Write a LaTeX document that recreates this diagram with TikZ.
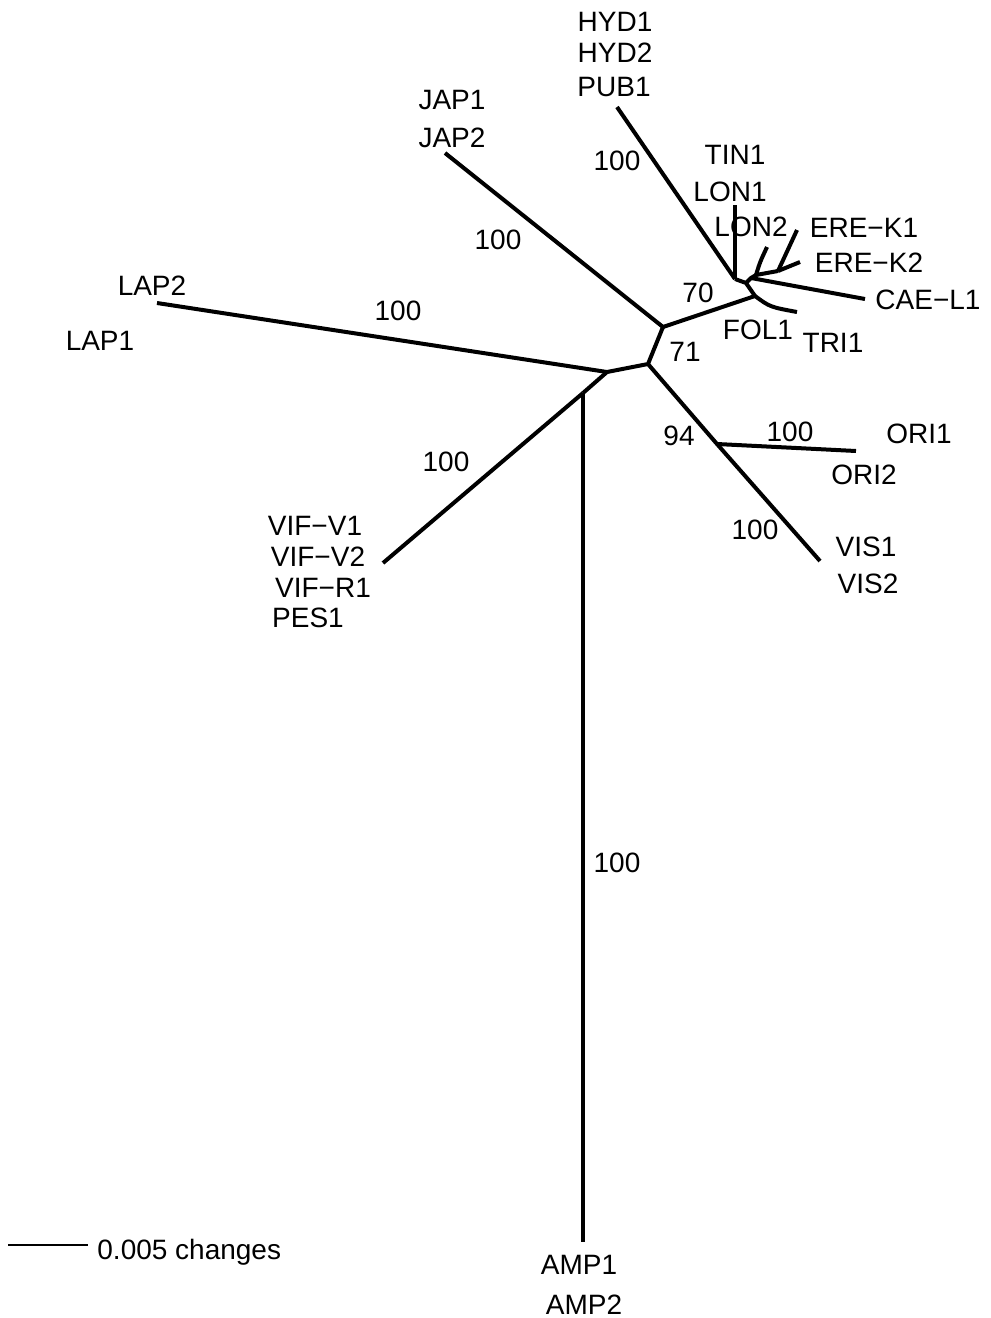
\documentclass[tikz,border=0pt]{standalone}
\usepackage{fontspec}
\setmainfont{Liberation Sans}
\usetikzlibrary{positioning}

\begin{document}
\begin{tikzpicture}[
    x=0.5pt, y=-0.5pt,
    branch/.style={line width=2pt},
    taxon/.style={font=\fontsize{14}{16}\selectfont, inner sep=0pt},
    boot/.style={taxon}
]
\useasboundingbox (0,0) rectangle (991,1318);

% ==============================================================================
% INTERNAL NODES
% ==============================================================================
\coordinate (nA) at (663,327);
\coordinate (nB) at (648,364);
\coordinate (nC) at (607,372);
\coordinate (nD) at (583,393);
\coordinate (nE) at (755,296);
\coordinate (nF) at (746,283);
\coordinate (nG) at (735,279);
\coordinate (nH) at (751,278);
\coordinate (nI) at (756,275);
\coordinate (nJ) at (778,271);
\coordinate (nK) at (717,444);

% ==============================================================================
% BRANCH ENDS
% ==============================================================================
\coordinate (eHyd) at (617,107);
\coordinate (eTin) at (735,205);
\coordinate (eLon) at (767,247);
\coordinate (eEre1) at (797,230);
\coordinate (eEre2) at (800,262);
\coordinate (eCae) at (865,299);
\coordinate (eFol) at (797,312);
\coordinate (eJap) at (445,153);
\coordinate (eLap) at (157,303);
\coordinate (eVif) at (383,563);
\coordinate (eAmp) at (583,1242);
\coordinate (eOri) at (856,451);
\coordinate (eVis) at (820,561);

% ==============================================================================
% BRANCHES
% ==============================================================================
\draw[branch] (nA) -- (nB) -- (nC) -- (nD);
\draw[branch] (nC) -- (eLap);
\draw[branch] (nD) -- (eVif);
\draw[branch] (nD) -- (eAmp);
\draw[branch] (nA) -- (eJap);
\draw[branch] (nA) -- (nE) -- (nF) -- (nG);
\draw[branch] (nG) -- (eHyd);
\draw[branch] (nG) -- (eTin);
\draw[branch] (nE) .. controls (770,307) .. (eFol);
\draw[branch] (nF) -- (nH) -- (nI) -- (nJ);
\draw[branch] (nH) -- (eCae);
\draw[branch] (nI) .. controls (760,262) .. (eLon);
\draw[branch] (nJ) -- (eEre2);
\draw[branch] (nJ) -- (eEre1);
\draw[branch] (nB) -- (nK) -- (eVis);
\draw[branch] (nK) -- (eOri);

% ==============================================================================
% TAXA
% ==============================================================================
\node[taxon] (hyd1) at (615,22) {HYD1};
\node[taxon] (hyd2) at (615,53) {HYD2};
\node[taxon] (pub1) at (614,87) {PUB1};
\node[taxon] (jap1) at (452,100) {JAP1};
\node[taxon] (jap2) at (452,138) {JAP2};
\node[taxon] (tin1) at (735,155) {TIN1};
\node[taxon] (lon1) at (730,192) {LON1};
\node[taxon] (lon2) at (751,227) {LON2};
\node[taxon] (erek1) at (864,228) {ERE−K1};
\node[taxon] (erek2) at (869,263) {ERE−K2};
\node[taxon] (cael1) at (928,300) {CAE−L1};
\node[taxon] (fol1) at (758,330) {FOL1};
\node[taxon] (tri1) at (833,343) {TRI1};
\node[taxon] (lap2) at (152,286) {LAP2};
\node[taxon] (lap1) at (100,341) {LAP1};
\node[taxon] (vifv1) at (315,526) {VIF−V1};
\node[taxon] (vifv2) at (318,557) {VIF−V2};
\node[taxon] (vifr1) at (323,588) {VIF−R1};
\node[taxon] (pes1) at (308,618) {PES1};
\node[taxon] (ori1) at (919,434) {ORI1};
\node[taxon] (ori2) at (864,475) {ORI2};
\node[taxon] (vis1) at (866,547) {VIS1};
\node[taxon] (vis2) at (868,584) {VIS2};
\node[taxon] (amp1) at (579,1265) {AMP1};
\node[taxon] (amp2) at (584,1305) {AMP2};

% ==============================================================================
% BOOTSTRAP VALUES
% ==============================================================================
\node[boot] (bHyd) at (617,161) {100};
\node[boot] (bJap) at (498,240) {100};
\node[boot] (bLap) at (398,311) {100};
\node[boot] (bVif) at (446,462) {100};
\node[boot] (bAmp) at (617,863) {100};
\node[boot] (bOri) at (790,432) {100};
\node[boot] (bVis) at (755,530) {100};
\node[boot] (b70) at (698,293) {70};
\node[boot] (b71) at (685,352) {71};
\node[boot] (b94) at (679,436) {94};

% scale bar
\coordinate (sL) at (8,1245);
\coordinate (sR) at (88,1245);
\draw[line width=1.3pt] (sL) -- (sR);
\node[taxon, anchor=base west] (scale) at (97,1259) {0.005 changes};

\end{tikzpicture}
\end{document}
